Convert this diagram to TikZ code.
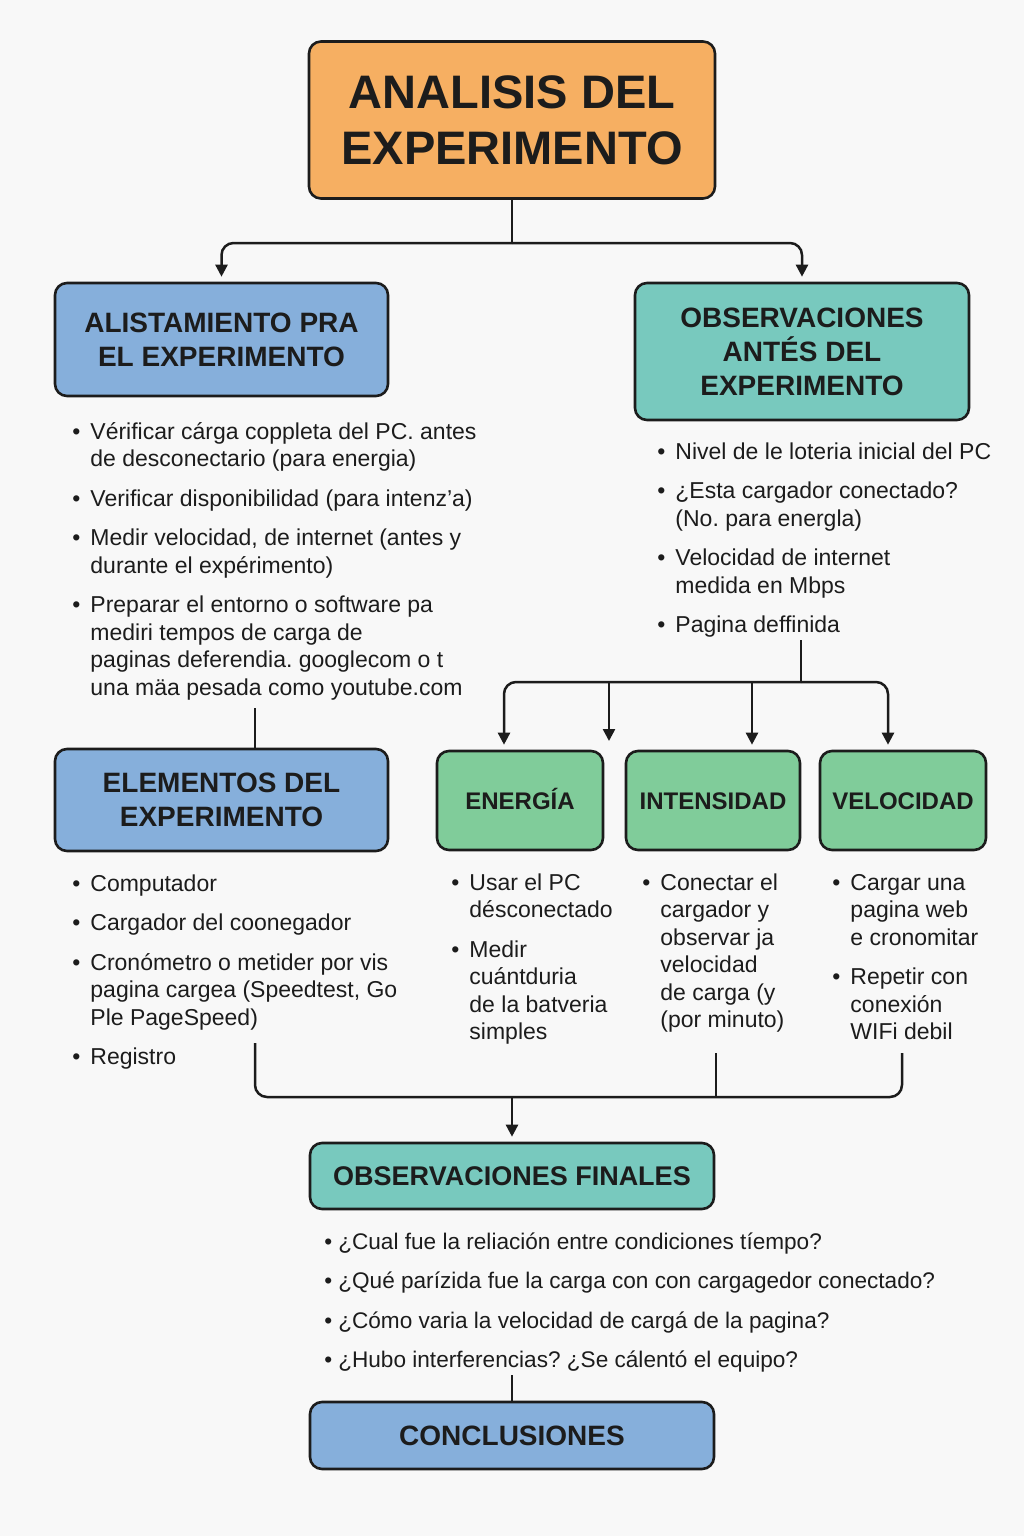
\documentclass[tikz,border=0pt]{standalone}
\usepackage{fontspec}
\setmainfont{Liberation Sans}
\usetikzlibrary{arrows.meta}
\definecolor{paper}{HTML}{F8F8F8}
\definecolor{ink}{HTML}{1C1C1C}
\definecolor{orangefill}{HTML}{F6AF62}
\definecolor{bluefill}{HTML}{86AFDB}
\definecolor{tealfill}{HTML}{78C9BE}
\definecolor{greenfill}{HTML}{80CC9A}
\frenchspacing

\begin{document}
\begin{tikzpicture}[x=0.5pt, y=-0.5pt,
  box/.style={draw=ink, line width=1.3pt, rounded corners=6pt, align=center,
              text=ink, inner sep=2pt, font=\fontsize{14}{17}\selectfont\bfseries},
  small/.style={box, fill=greenfill, minimum height=49.5pt, text height=8.6pt, text depth=0pt,
                font=\fontsize{12}{14}\selectfont\bfseries},
  lst/.style={inner sep=0pt, anchor=base west, text=ink,
              font=\fontsize{11.5}{13.75}\selectfont},
  line/.style={draw=ink, line width=1.25pt},
  arr/.style={line, rounded corners=6pt, -{Triangle[width=6pt,length=6pt]}, shorten >=2.5pt}
]
\useasboundingbox (0,0) rectangle (1024,1536);
\fill[paper] (0,0) rectangle (1024,1536);

% header boxes
\node[box, fill=orangefill, minimum width=203pt, minimum height=78.5pt,
      font=\fontsize{23.5}{28}\selectfont\bfseries] (title) at (512,120)
  {ANALISIS DEL\\EXPERIMENTO};

\node[box, fill=bluefill, minimum width=166.5pt, minimum height=56.5pt] (alist) at (221.5,339.5)
  {ALISTAMIENTO PRA\\EL EXPERIMENTO};

\node[box, fill=tealfill, minimum width=167pt, minimum height=68.5pt] (obs) at (802,351.5)
  {OBSERVACIONES\\ANTÉS DEL\\EXPERIMENTO};

\node[box, fill=bluefill, minimum width=166.5pt, minimum height=51pt] (elem) at (221.5,800)
  {ELEMENTOS DEL\\EXPERIMENTO};

\node[small, minimum width=83pt] (ener) at (520,800.5) {ENERGÍA};
\node[small, minimum width=87pt] (inten) at (713,800.5) {INTENSIDAD};
\node[small, minimum width=83pt] (velo) at (903,800.5) {VELOCIDAD};

\node[box, fill=tealfill, minimum width=202pt, minimum height=33pt,
      font=\fontsize{13.5}{16}\selectfont\bfseries] (obsfin) at (512,1176) {OBSERVACIONES FINALES};
\node[box, fill=bluefill, minimum width=202pt, minimum height=33.5pt] (concl) at (512,1435.5) {CONCLUSIONES};

% bullet lists
\node[lst] (alistlist) at (72,439) {\begin{tabular}[t]{@{}l@{\hspace{5pt}}l@{}}
  \textbullet & Vérificar cárga coppleta del PC. antes\\
              & de desconectario (para energia)\\[6pt]
  \textbullet & Verificar disponibilidad (para intenz’a)\\[6pt]
  \textbullet & Medir velocidad, de internet (antes y\\
              & durante el expérimento)\\[6pt]
  \textbullet & Preparar el entorno o software pa\\
              & mediri tempos de carga de\\
              & paginas deferendia. googlecom o t\\
              & una mäa pesada como youtube.com
\end{tabular}};

\node[lst] (obslist) at (657,459) {\begin{tabular}[t]{@{}l@{\hspace{5pt}}l@{}}
  \textbullet & Nivel de le loteria inicial del PC\\[6pt]
  \textbullet & ¿Esta cargador conectado?\\
              & (No. para energla)\\[6pt]
  \textbullet & Velocidad de internet\\
              & medida en Mbps\\[6pt]
  \textbullet & Pagina deffinida
\end{tabular}};

\node[lst] (elemlist) at (72,891) {\begin{tabular}[t]{@{}l@{\hspace{5pt}}l@{}}
  \textbullet & Computador\\[6pt]
  \textbullet & Cargador del coonegador\\[6pt]
  \textbullet & Cronómetro o metider por vis\\
              & pagina cargea (Speedtest, Go\\
              & Ple PageSpeed)\\[6pt]
  \textbullet & Registro
\end{tabular}};

\node[lst] (enerlist) at (451,890) {\begin{tabular}[t]{@{}l@{\hspace{5pt}}l@{}}
  \textbullet & Usar el PC\\
              & désconectado\\[6pt]
  \textbullet & Medir\\
              & cuántduria\\
              & de la batveria\\
              & simples
\end{tabular}};

\node[lst] (intenlist) at (642,890) {\begin{tabular}[t]{@{}l@{\hspace{5pt}}l@{}}
  \textbullet & Conectar el\\
              & cargador y\\
              & observar ja\\
              & velocidad\\
              & de carga (y\\
              & (por minuto)
\end{tabular}};

\node[lst] (velolist) at (832,890) {\begin{tabular}[t]{@{}l@{\hspace{5pt}}l@{}}
  \textbullet & Cargar una\\
              & pagina web\\
              & e cronomitar\\[6pt]
  \textbullet & Repetir con\\
              & conexión\\
              & WIFi debil
\end{tabular}};

\node[lst, font=\fontsize{11.3}{13.75}\selectfont] (finlist) at (324,1249) {\begin{tabular}[t]{@{}l@{\hspace{3pt}}l@{}}
  \textbullet & ¿Cual fue la reliación entre condiciones tíempo?\\[6pt]
  \textbullet & ¿Qué parízida fue la carga con con cargagedor conectado?\\[6pt]
  \textbullet & ¿Cómo varia la velocidad de cargá de la pagina?\\[6pt]
  \textbullet & ¿Hubo interferencias? ¿Se cálentó el equipo?
\end{tabular}};

% connector points
\coordinate (split) at (512,243);
\coordinate (alistend) at (255,708);
\coordinate (obsend) at (801,640);
\coordinate (fork) at (801,682);
\coordinate (stray) at (609,746);
\path ([xshift=-8pt]ener.north) coordinate (enerin)
      ([xshift=19.5pt]inten.north) coordinate (intenin)
      ([xshift=-7.5pt]velo.north) coordinate (veloin);
\coordinate (elemend) at (255,1043);
\coordinate (intenend) at (716,1053);
\coordinate (veloend) at (902,1053);
\coordinate (join) at (512,1097);
\coordinate (finend) at (512,1375);

% connectors
\draw[line] (title.south) -- (split);
\draw[arr] (split) -| (alist.north);
\draw[arr] (split) -| (obs.north);

\draw[line] (alistend) -- (alistend |- elem.north);

\draw[line] (obsend) -- (fork);
\draw[arr] (fork) -| (enerin);
\draw[arr] (fork) -| (veloin);
\draw[arr] (stray |- fork) -- (stray);
\draw[arr] (intenin |- fork) -- (intenin);

\draw[line, rounded corners=6pt] (elemend) |- (join) -| (veloend);
\draw[line] (intenend) -- (intenend |- join);
\draw[arr] (join) -- (obsfin.north);

\draw[line] (finend) -- (concl.north);
\end{tikzpicture}
\end{document}
